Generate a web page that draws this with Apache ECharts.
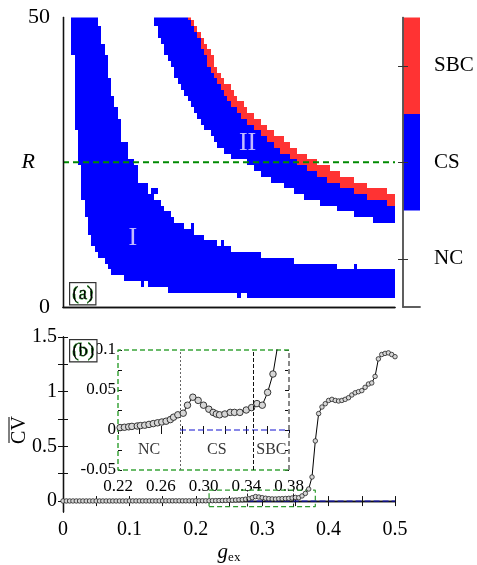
<!DOCTYPE html>
<html>
<head>
<meta charset="utf-8">
<script src="https://cdn.jsdelivr.net/npm/echarts@6/dist/echarts.min.js"></script>
<style>
  html, body { margin: 0; padding: 0; background: #fff; }
  #chart { width: 477px; height: 565px; }
</style>
</head>
<body>
<div id="chart"></div>
<script>
const SERIF = 'Liberation Serif'
const CS_BLUE = '#0000ff'
const SBC_RED = '#ff3333'

// ---- panel (a): one row per R, region edges read in g_ex ----
const rRows = [50, 49, 48, 47, 46, 45, 44, 43, 42, 41, 40, 39, 38, 37, 36, 35, 34, 33, 32, 31,
  30, 29, 28, 27, 26, 25, 24, 23, 22, 21, 20, 19, 18, 17, 16, 15, 14, 13, 12, 11,
  10, 9, 8, 7, 6, 5, 4, 3, 2, 1]
// band I (CS), rows R=50..2
const band1Start = [0.0125, 0.0125, 0.0125, 0.0125, 0.0125, 0.0125, 0.0125, 0.0175, 0.0175, 0.0175,
  0.0175, 0.0175, 0.0175, 0.0175, 0.0175, 0.0175, 0.0175, 0.0175, 0.0175, 0.0175,
  0.0225, 0.0225, 0.0225, 0.0225, 0.0225, 0.0225, 0.0275, 0.0275, 0.0275, 0.0275,
  0.0275, 0.0275, 0.0325, 0.0325, 0.0325, 0.0375, 0.0375, 0.0375, 0.0425, 0.0425,
  0.0475, 0.0525, 0.0625, 0.0675, 0.0725, 0.0925, 0.1275, 0.1575, 0.2775]
const band1End = [0.0525, 0.0525, 0.0575, 0.0575, 0.0575, 0.0625, 0.0625, 0.0675, 0.0675, 0.0675,
  0.0675, 0.0725, 0.0725, 0.0725, 0.0775, 0.0775, 0.0825, 0.0825, 0.0875, 0.0875,
  0.0875, 0.0875, 0.0975, 0.0975, 0.0975, 0.1075, 0.1125, 0.1125, 0.1125, 0.1275,
  0.1275, 0.1375, 0.1475, 0.1525, 0.1625, 0.1675, 0.1825, 0.1975, 0.2125, 0.2325,
  0.2525, 0.2975, 0.3475, 0.4125, 0.5, 0.5, 0.5, 0.5, 0.5]
// band II, rows R=50..15: CS from band2Start to sbcStart, SBC from sbcStart to band2End
const band2Start = [0.1375, 0.1375, 0.1425, 0.1425, 0.1475, 0.1525, 0.1525, 0.1575, 0.1625, 0.1675,
  0.1675, 0.1725, 0.1775, 0.1825, 0.1875, 0.1925, 0.1975, 0.2025, 0.2075, 0.2125,
  0.2225, 0.2275, 0.2325, 0.2425, 0.2525, 0.2775, 0.2875, 0.2975, 0.3125, 0.3325,
  0.3475, 0.3625, 0.3875, 0.4125, 0.4375, 0.4675]
const sbcStart = [0.1875, 0.1925, 0.1975, 0.2025, 0.2075, 0.2075, 0.2125, 0.2175, 0.2175, 0.2225,
  0.2275, 0.2325, 0.2375, 0.2425, 0.2475, 0.2525, 0.2625, 0.2675, 0.2775, 0.2875,
  0.2975, 0.3075, 0.3175, 0.3275, 0.3425, 0.3525, 0.3675, 0.3825, 0.3975, 0.4175,
  0.4375, 0.4575, 0.4875, 0.5, 0.5, 0.5]
// SBC rows R=50..18
const band2End = [0.1925, 0.1975, 0.2025, 0.2075, 0.2125, 0.2175, 0.2225, 0.2275, 0.2275, 0.2325,
  0.2375, 0.2425, 0.2525, 0.2575, 0.2625, 0.2725, 0.2775, 0.2875, 0.2975, 0.3075,
  0.3175, 0.3325, 0.3425, 0.3525, 0.3675, 0.3825, 0.4025, 0.4175, 0.4375, 0.4575,
  0.4875, 0.5, 0.5]
// isolated CS cells [g_ex, R]
const csSpecks = [[0.12, 4], [0.265, 2], [0.24, 11], [0.44, 7], [0.135, 20], [0.14, 20], [0.195, 14]]
const cellWidth = 0.005
const rMarked = 25

const cbStates = ['NC', 'CS', 'SBC']
const cbColors = ['#ffffff', CS_BLUE, SBC_RED]

// ---- panel (b): mean CV against g_ex ----
const gMain = [0, 0.005, 0.01, 0.015, 0.02, 0.025, 0.03, 0.035, 0.04, 0.045,
  0.05, 0.055, 0.06, 0.065, 0.07, 0.075, 0.08, 0.085, 0.09, 0.095,
  0.1, 0.105, 0.11, 0.115, 0.12, 0.125, 0.13, 0.135, 0.14, 0.145,
  0.15, 0.155, 0.16, 0.165, 0.17, 0.175, 0.18, 0.185, 0.19, 0.195,
  0.2, 0.205, 0.21, 0.215, 0.22, 0.225, 0.23, 0.235, 0.24, 0.245,
  0.25, 0.255, 0.26, 0.265, 0.27, 0.275, 0.28, 0.285, 0.29, 0.295,
  0.3, 0.305, 0.31, 0.315, 0.32, 0.325, 0.33, 0.335, 0.34, 0.345,
  0.35, 0.355, 0.36, 0.365, 0.37, 0.375, 0.38, 0.385, 0.39, 0.395,
  0.4, 0.405, 0.41, 0.415, 0.42, 0.425, 0.43, 0.435, 0.44, 0.445,
  0.45, 0.455, 0.46, 0.465, 0.47, 0.475, 0.48, 0.485, 0.49, 0.495, 0.5]
const cvMain = [0.001, 0.001, 0.001, 0.001, 0.001, 0.001, 0.001, 0.001, 0.001, 0.001,
  0.001, 0.001, 0.001, 0.001, 0.001, 0.001, 0.001, 0.001, 0.001, 0.001,
  0.0015, 0.0015, 0.0015, 0.0015, 0.0015, 0.0015, 0.0015, 0.0015, 0.0015, 0.0015,
  0.002, 0.002, 0.002, 0.002, 0.002, 0.002, 0.002, 0.002, 0.002, 0.002,
  0.0025, 0.0025, 0.0025, 0.0025, 0.003, 0.0035, 0.004, 0.0045, 0.005, 0.006,
  0.007, 0.008, 0.0095, 0.011, 0.013, 0.017, 0.021, 0.031, 0.041, 0.037,
  0.031, 0.026, 0.022, 0.02, 0.019, 0.021, 0.022, 0.023, 0.025, 0.028,
  0.033, 0.031, 0.047, 0.07, 0.11, 0.22, 0.55, 0.8, 0.86, 0.89,
  0.92, 0.93, 0.92, 0.915, 0.92, 0.93, 0.945, 0.97, 0.99, 1.0,
  1.01, 1.04, 1.07, 1.08, 1.14, 1.3, 1.34, 1.35, 1.355, 1.34, 1.32]
// inset (finer sampling)
const gInset = [0.222, 0.226, 0.23, 0.233, 0.238, 0.241, 0.245, 0.249, 0.253, 0.257,
  0.261, 0.265, 0.269, 0.272, 0.276, 0.281, 0.285, 0.29, 0.295, 0.3,
  0.305, 0.309, 0.312, 0.315, 0.32, 0.325, 0.329, 0.334, 0.34, 0.345,
  0.35, 0.355, 0.36, 0.365, 0.37, 0.375]
const cvInset = [0.003, 0.0034, 0.004, 0.0045, 0.005, 0.0055, 0.006, 0.007, 0.008, 0.009,
  0.01, 0.011, 0.013, 0.016, 0.019, 0.021, 0.031, 0.041, 0.037, 0.031,
  0.026, 0.022, 0.02, 0.019, 0.02, 0.022, 0.022, 0.022, 0.025, 0.028,
  0.033, 0.031, 0.047, 0.07, 0.11, 0.22]
const zoomG = [0.22, 0.38]
const zoomCV = [-0.05, 0.1]
const phaseBounds = [0.278, 0.347]
const insetPhases = ['NC', 'CS', 'SBC']

const mainXTicks = [0, 0.05, 0.1, 0.15, 0.2, 0.25, 0.3, 0.35, 0.4, 0.45, 0.5]
const mainXLabels = [0, 0.1, 0.2, 0.3, 0.4, 0.5]
const mainYTicks = [0, 0.25, 0.5, 0.75, 1, 1.25, 1.5]
const mainYLabels = [0, 0.5, 1, 1.5]
const insetXTicks = [0.22, 0.24, 0.26, 0.28, 0.3, 0.32, 0.34, 0.36, 0.38]
const insetXLabels = [0.22, 0.26, 0.3, 0.34, 0.38]
const insetYTicks = [-0.05, -0.025, 0, 0.025, 0.05, 0.075, 0.1]
const insetYLabels = [-0.05, 0, 0.05, 0.1]

// staircase outline of a band: down the left edges, back up the right edges
function stairOutline(rows, lefts, rights) {
  const pts = []
  rows.forEach((r, i) => { pts.push([lefts[i], r + 0.5], [lefts[i], r - 0.5]) })
  for (let i = rows.length - 1; i >= 0; i--) pts.push([rights[i], rows[i] - 0.5], [rights[i], rows[i] + 0.5])
  return pts
}
const regions = [
  { state: 1, outline: stairOutline(rRows.slice(0, band1Start.length), band1Start, band1End) },
  { state: 1, outline: stairOutline(rRows.slice(0, band2Start.length), band2Start, sbcStart) },
  { state: 2, outline: stairOutline(rRows.slice(0, band2End.length), sbcStart.slice(0, band2End.length), band2End) }
]

const chart = echarts.init(document.getElementById('chart'))

const lineAxis = { lineStyle: { color: '#111', width: 1.3 } }
const frameX = (gridIndex, position) => ({
  gridIndex, position, type: 'value', min: 0, max: 0.5, z: 10,
  axisLine: lineAxis, axisTick: { show: false }, axisLabel: { show: false }, splitLine: { show: false }
})
const tickStyle = { lineStyle: { color: '#111', width: 1 } }

const option = {
  animation: false,
  textStyle: { fontFamily: SERIF },
  grid: [
    { left: 63, top: 17.5, width: 332, height: 289.5 },
    { left: 403, top: 17.5, width: 17, height: 289.5 },
    { left: 63, top: 337, width: 332, height: 190 },
    { left: 118, top: 350, width: 171, height: 120 }
  ],
  xAxis: [
    frameX(0, 'bottom'),
    frameX(0, 'top'),
    { gridIndex: 1, type: 'value', min: 0, max: 1, position: 'bottom', z: 10,
      axisLine: { lineStyle: { color: '#555', width: 1.5 } }, axisTick: { show: false }, axisLabel: { show: false }, splitLine: { show: false } },
    { gridIndex: 1, type: 'value', min: 0, max: 1, position: 'top', z: 10,
      axisLine: { lineStyle: { color: '#555', width: 1.5 } }, axisTick: { show: false }, axisLabel: { show: false }, splitLine: { show: false } },
    { gridIndex: 2, type: 'value', min: 0, max: 0.5, position: 'bottom',
      axisLine: lineAxis, splitLine: { show: false },
      axisTick: { customValues: mainXTicks, inside: true, length: 5, ...tickStyle },
      axisLabel: { customValues: mainXLabels, formatter: v => String(v), fontSize: 20, color: '#000', margin: 8 },
      name: '{g|g}{s|ex}', nameLocation: 'middle', nameGap: 29,
      nameTextStyle: { rich: {
        g: { fontFamily: SERIF, fontStyle: 'italic', fontSize: 21, color: '#000' },
        s: { fontFamily: SERIF, fontSize: 13, color: '#000', verticalAlign: 'bottom', padding: [10, 0, 0, 0] }
      } } },
    { gridIndex: 2, type: 'value', min: 0, max: 0.5, position: 'top',
      axisLine: lineAxis, splitLine: { show: false },
      axisTick: { customValues: mainXTicks, inside: true, length: 5, ...tickStyle },
      axisLabel: { show: false } },
    { gridIndex: 3, type: 'value', min: zoomG[0], max: zoomG[1], position: 'bottom',
      axisLine: { show: false }, splitLine: { show: false },
      axisTick: { customValues: insetXTicks, inside: true, length: 4, ...tickStyle },
      axisLabel: { customValues: insetXLabels, formatter: v => v.toFixed(2), fontSize: 17, color: '#000', margin: 8 } },
    { gridIndex: 3, type: 'value', min: zoomG[0], max: zoomG[1], position: 'top',
      axisLine: { show: false }, splitLine: { show: false },
      axisTick: { customValues: insetXTicks, inside: true, length: 4, ...tickStyle },
      axisLabel: { show: false } }
  ],
  yAxis: [
    { gridIndex: 0, type: 'value', min: 0, max: 50, position: 'left', z: 10,
      axisLine: lineAxis, axisTick: { show: false }, splitLine: { show: false },
      axisLabel: { customValues: [0, rMarked, 50], color: '#000', fontSize: 22, margin: 13,
        formatter: v => (v === rMarked ? '{r|R}' : String(v)),
        rich: { r: { fontFamily: SERIF, fontStyle: 'italic', fontSize: 22, color: '#000', padding: [0, 15, 0, 0] } } } },
    { gridIndex: 0, type: 'value', min: 0, max: 50, position: 'right', z: 10,
      axisLine: lineAxis, axisTick: { show: false }, axisLabel: { show: false }, splitLine: { show: false } },
    { gridIndex: 1, type: 'value', min: 0, max: 3, position: 'left', z: 10,
      axisLine: { lineStyle: { color: '#555', width: 1.5 } }, splitLine: { show: false }, axisLabel: { show: false },
      axisTick: { customValues: [0.5, 1.5, 2.5], inside: true, length: 5, lineStyle: { color: '#333', width: 1 } } },
    { gridIndex: 1, type: 'value', min: 0, max: 3, position: 'right', z: 10,
      axisLine: { lineStyle: { color: '#555', width: 1.5 } }, splitLine: { show: false },
      axisTick: { customValues: [0.5, 1.5, 2.5], inside: true, length: 5, lineStyle: { color: '#333', width: 1 } },
      axisLabel: { customValues: [0.5, 1.5, 2.5], formatter: v => cbStates[Math.floor(v)], fontSize: 21, color: '#000', margin: 14 } },
    { gridIndex: 2, type: 'value', min: -0.1, max: 1.5, position: 'left',
      axisLine: lineAxis, splitLine: { show: false },
      axisTick: { customValues: mainYTicks, inside: true, length: 5, ...tickStyle },
      axisLabel: { customValues: mainYLabels, formatter: v => String(v), fontSize: 20, color: '#000', margin: 6 } },
    { gridIndex: 2, type: 'value', min: -0.1, max: 1.5, position: 'right',
      axisLine: lineAxis, splitLine: { show: false },
      axisTick: { customValues: mainYTicks, inside: true, length: 5, ...tickStyle },
      axisLabel: { show: false } },
    { gridIndex: 3, type: 'value', min: zoomCV[0], max: zoomCV[1], position: 'left',
      axisLine: { show: false }, splitLine: { show: false },
      axisTick: { customValues: insetYTicks, inside: true, length: 4, ...tickStyle },
      axisLabel: { customValues: insetYLabels, formatter: v => String(v), fontSize: 17, color: '#000', margin: 2 } },
    { gridIndex: 3, type: 'value', min: zoomCV[0], max: zoomCV[1], position: 'right',
      axisLine: { show: false }, splitLine: { show: false },
      axisTick: { customValues: insetYTicks, inside: true, length: 4, ...tickStyle },
      axisLabel: { show: false } }
  ],
  series: [
    {
      type: 'custom', name: 'regions', xAxisIndex: 0, yAxisIndex: 0, clip: true,
      data: regions.map((r, i) => [i]),
      renderItem: (params, api) => {
        const reg = regions[api.value(0)]
        const color = reg.state === 2 ? SBC_RED : CS_BLUE
        return {
          type: 'polygon',
          shape: { points: reg.outline.map(p => api.coord(p).map(Math.round)) },
          style: { fill: color, stroke: null, lineWidth: 0 }
        }
      }
    },
    {
      type: 'custom', name: 'specks', xAxisIndex: 0, yAxisIndex: 0, clip: true,
      data: csSpecks,
      renderItem: (params, api) => {
        const g = api.value(0)
        const r = api.value(1)
        const p0 = api.coord([g - cellWidth / 2, r + 0.5]).map(Math.round)
        const p1 = api.coord([g + cellWidth / 2, r - 0.5]).map(Math.round)
        return {
          type: 'rect',
          shape: { x: p0[0], y: p0[1], width: p1[0] - p0[0], height: p1[1] - p0[1] },
          style: { fill: CS_BLUE }
        }
      }
    },
    {
      type: 'line', xAxisIndex: 0, yAxisIndex: 0, symbol: 'none', z: 5,
      data: [[0, rMarked], [0.5, rMarked]],
      lineStyle: { color: '#008a00', width: 2, type: [6, 4] }
    },
    {
      type: 'scatter', xAxisIndex: 0, yAxisIndex: 0, symbolSize: 0, z: 6,
      data: [{ name: 'I', value: [0.105, 11.9] }, { name: 'II', value: [0.278, 28.3] }],
      label: { show: true, position: 'inside', formatter: '{b}', fontFamily: SERIF, fontSize: 26, color: '#f3e8ff' }
    },
    {
      type: 'custom', xAxisIndex: 2, yAxisIndex: 2,
      data: cbStates.map((s, i) => [i]),
      renderItem: (params, api) => {
        const i = api.value(0)
        const p0 = api.coord([0, i + 1])
        const p1 = api.coord([1, i])
        return {
          type: 'rect',
          shape: { x: p0[0], y: p0[1], width: p1[0] - p0[0], height: p1[1] - p0[1] },
          style: { fill: cbColors[i] }
        }
      }
    },
    {
      type: 'line', name: 'CV', xAxisIndex: 4, yAxisIndex: 4, z: 4,
      data: gMain.map((g, i) => [g, cvMain[i]]),
      symbol: 'circle', symbolSize: 4.5,
      lineStyle: { color: '#000', width: 1 },
      itemStyle: { color: '#d6d6d6', borderColor: '#222', borderWidth: 0.8 }
    },
    {
      type: 'line', xAxisIndex: 4, yAxisIndex: 4, symbol: 'none', clip: false, z: 3,
      data: [[zoomG[0], zoomCV[0]], [zoomG[1], zoomCV[0]], [zoomG[1], zoomCV[1]], [zoomG[0], zoomCV[1]], [zoomG[0], zoomCV[0]]],
      lineStyle: { color: '#2e9a2e', width: 1.2, type: [5, 3] },
      markLine: {
        silent: true, symbol: 'none', label: { show: false },
        lineStyle: { color: '#222', width: 1, type: [3, 2] },
        data: phaseBounds.map(g => [{ coord: [g, zoomCV[0]] }, { coord: [g, zoomCV[1]] }])
      }
    },
    {
      type: 'line', xAxisIndex: 4, yAxisIndex: 4, symbol: 'none', z: 3,
      data: [[phaseBounds[0], 0], [0.5, 0]],
      lineStyle: { color: '#1010d0', width: 1, type: [6, 3] }
    },
    {
      type: 'line', name: 'CV inset', xAxisIndex: 6, yAxisIndex: 6, z: 4,
      data: gInset.map((g, i) => [g, cvInset[i]]),
      symbol: 'circle', symbolSize: 6.5,
      lineStyle: { color: '#000', width: 1 },
      itemStyle: { color: '#d6d6d6', borderColor: '#222', borderWidth: 0.9 }
    },
    {
      type: 'line', xAxisIndex: 6, yAxisIndex: 6, symbol: 'none', clip: false, z: 3,
      data: [[zoomG[1], zoomCV[1]], [zoomG[0], zoomCV[1]], [zoomG[0], zoomCV[0]], [zoomG[1], zoomCV[0]]],
      lineStyle: { color: '#3aa53a', width: 1.5, type: [5, 3] },
      markLine: {
        silent: true, symbol: 'none', label: { show: false },
        data: [
          [{ coord: [phaseBounds[0], zoomCV[0]], lineStyle: { color: '#666', width: 1, type: [2, 2] } }, { coord: [phaseBounds[0], zoomCV[1]] }],
          [{ coord: [phaseBounds[1], zoomCV[0]], lineStyle: { color: '#111', width: 1, type: [4, 2] } }, { coord: [phaseBounds[1], zoomCV[1]] }],
          [{ coord: [zoomG[1], zoomCV[0]], lineStyle: { color: '#888', width: 2, type: [5, 3] } }, { coord: [zoomG[1], zoomCV[1]] }]
        ]
      }
    },
    {
      type: 'line', xAxisIndex: 6, yAxisIndex: 6, symbol: 'none', z: 3,
      data: [[phaseBounds[0], 0], [zoomG[1], 0]],
      lineStyle: { color: '#1010d0', width: 1, type: [6, 3] }
    },
    {
      type: 'scatter', xAxisIndex: 6, yAxisIndex: 6, symbolSize: 0, z: 6,
      data: insetPhases.map((p, i) => {
        const edges = [zoomG[0], phaseBounds[0], phaseBounds[1], zoomG[1]]
        return { name: p, value: [(edges[i] + edges[i + 1]) / 2, -0.025] }
      }),
      label: { show: true, position: 'inside', formatter: '{b}', fontFamily: SERIF, fontSize: 16, color: '#000' }
    }
  ],
  graphic: [
    { type: 'text', left: 69, top: 282, z: 20,
      style: { text: '(a)', font: '19px "Liberation Serif"', fill: '#000', padding: [1, 2, 1, 2],
        borderColor: '#333', borderWidth: 1.2, backgroundColor: '#fff' } },
    { type: 'text', left: 69, top: 339, z: 20,
      style: { text: '(b)', font: '19px "Liberation Serif"', fill: '#000', padding: [1, 2, 1, 2],
        borderColor: '#333', borderWidth: 1.2, backgroundColor: '#fff' } },
    { type: 'group', x: 20, y: 430, rotation: Math.PI / 2, z: 20,
      children: [
        { type: 'text', style: { text: 'CV', font: '20px "Liberation Serif"', fill: '#000', align: 'center', verticalAlign: 'middle' } },
        { type: 'line', shape: { x1: -13, y1: -11, x2: 13, y2: -11 }, style: { stroke: '#000', lineWidth: 1 } }
      ] }
  ]
}

chart.setOption(option)

// dashed connectors from the inset corners to the zoomed box in the main axes
const inA = chart.convertToPixel({ gridIndex: 3 }, [zoomG[0], zoomCV[0]])
const mainA = chart.convertToPixel({ gridIndex: 2 }, [zoomG[0], zoomCV[0]])
const inB = chart.convertToPixel({ gridIndex: 3 }, [zoomG[1], zoomCV[1]])
const mainB = chart.convertToPixel({ gridIndex: 2 }, [zoomG[1], zoomCV[1]])
const connStyle = { stroke: '#2e9a2e', lineWidth: 1, lineDash: [5, 3] }
chart.setOption({
  graphic: [
    { type: 'line', z: 15, shape: { x1: inA[0], y1: inA[1], x2: mainA[0], y2: mainA[1] }, style: connStyle },
    { type: 'line', z: 15, shape: { x1: inB[0], y1: inB[1], x2: mainB[0], y2: mainB[1] }, style: connStyle }
  ]
})
</script>
</body>
</html>
